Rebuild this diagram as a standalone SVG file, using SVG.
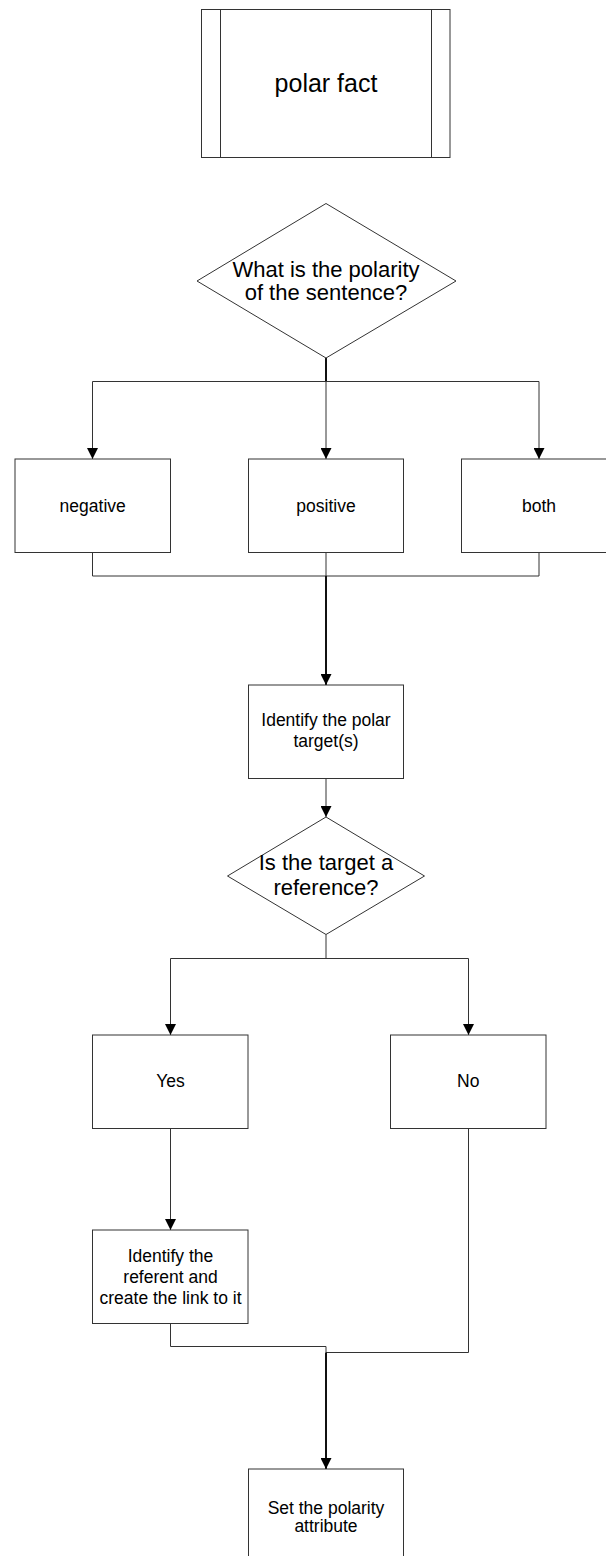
<svg xmlns="http://www.w3.org/2000/svg" width="606" height="1556" viewBox="0 0 606 1556">
  <defs>
    <marker id="arrow" markerUnits="userSpaceOnUse" markerWidth="11" markerHeight="11" refX="11" refY="5.5" orient="auto">
      <path d="M0,0 L11,5.5 L0,11 z" fill="#000"/>
    </marker>
    <style>
      .shape { fill: #fff; stroke: #333; stroke-width: 1; }
      .edge { fill: none; stroke: #333; stroke-width: 1; }
      .edge.thick { stroke: #111; stroke-width: 2; }
      .arr { marker-end: url(#arrow); }
      text { font-family: "Liberation Sans", Arial, sans-serif; fill: #000; text-anchor: middle; }
      .big { font-size: 25px; }
      .q { font-size: 22px; }
      .lbl { font-size: 17.5px; }
    </style>
  </defs>

  <rect width="606" height="1556" fill="#fff"/>

  <!-- connectors -->
  <g id="connectors">
    <path class="edge thick" d="M326,358 V381.5"/>
    <path class="edge" d="M92.5,381.5 H539"/>
    <path class="edge arr" d="M92.5,381.5 V459"/>
    <path class="edge arr" d="M326,381.5 V459"/>
    <path class="edge arr" d="M539,381.5 V459"/>
    <path class="edge" d="M92.5,552.5 V576 H539 V552.5"/>
    <path class="edge" d="M326,552.5 V576"/>
    <path class="edge thick arr" d="M326,576 V685"/>
    <path class="edge arr" d="M326,778.5 V817"/>
    <path class="edge" d="M326,934.5 V958.5"/>
    <path class="edge" d="M170.5,958.5 H468.5"/>
    <path class="edge arr" d="M170.5,958.5 V1035"/>
    <path class="edge arr" d="M468.5,958.5 V1035"/>
    <path class="edge arr" d="M170.5,1128.5 V1230"/>
    <path class="edge" d="M170.5,1323.5 V1346.5 H326 V1352.5"/>
    <path class="edge" d="M468.5,1128.5 V1352.5 H326"/>
    <path class="edge thick arr" d="M326,1352.5 V1469"/>
  </g>

  <!-- predefined process: polar fact -->
  <g id="polar-fact">
    <rect class="shape" x="201.5" y="9.5" width="248.5" height="148"/>
    <line class="edge" x1="220.5" y1="9.5" x2="220.5" y2="157.5"/>
    <line class="edge" x1="431.5" y1="9.5" x2="431.5" y2="157.5"/>
    <text class="big" x="326" y="91.5">polar fact</text>
  </g>

  <g id="q-polarity">
    <polygon class="shape" points="326,203.5 456,281 326,358 197,281"/>
    <text class="q" x="326" y="276.5">What is the polarity</text>
    <text class="q" x="326" y="300">of the sentence?</text>
  </g>

  <g id="negative">
    <rect class="shape" x="15" y="459" width="155.5" height="93.5"/>
    <text class="lbl" x="92.7" y="511.5">negative</text>
  </g>

  <g id="positive">
    <rect class="shape" x="248.5" y="459" width="155" height="93.5"/>
    <text class="lbl" x="326" y="511.5">positive</text>
  </g>

  <g id="both">
    <rect class="shape" x="461.5" y="459" width="155" height="93.5"/>
    <text class="lbl" x="539" y="511.5">both</text>
  </g>

  <g id="identify-target">
    <rect class="shape" x="248.5" y="685" width="155" height="93.5"/>
    <text class="lbl" x="326" y="726">Identify the polar</text>
    <text class="lbl" x="326" y="747">target(s)</text>
  </g>

  <g id="q-reference">
    <polygon class="shape" points="326,817 424.5,876 326,934.5 227.5,876"/>
    <text class="q" x="326" y="870">Is the target a</text>
    <text class="q" x="326" y="895">reference?</text>
  </g>

  <g id="yes">
    <rect class="shape" x="92.5" y="1035" width="155.5" height="93.5"/>
    <text class="lbl" x="170.5" y="1086.5">Yes</text>
  </g>

  <g id="no">
    <rect class="shape" x="390.5" y="1035" width="155.5" height="93.5"/>
    <text class="lbl" x="468.3" y="1086.5">No</text>
  </g>

  <g id="identify-referent">
    <rect class="shape" x="92.5" y="1230" width="155.5" height="93.5"/>
    <text class="lbl" x="170.5" y="1261.5">Identify the</text>
    <text class="lbl" x="170.5" y="1282.5">referent and</text>
    <text class="lbl" x="170.5" y="1303.5">create the link to it</text>
  </g>

  <g id="set-polarity">
    <rect class="shape" x="248.5" y="1469" width="155" height="93.5"/>
    <text class="lbl" x="326" y="1513.5">Set the polarity</text>
    <text class="lbl" x="326" y="1532">attribute</text>
  </g>
</svg>
